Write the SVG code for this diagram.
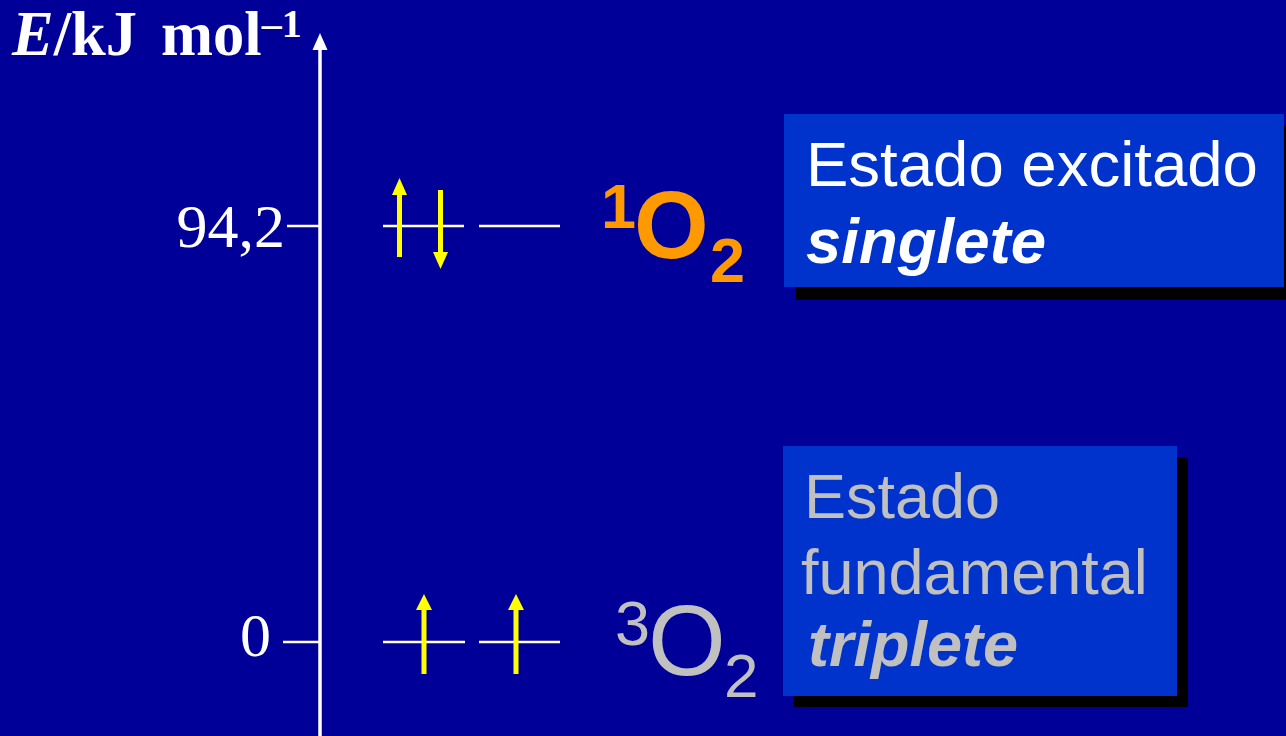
<svg xmlns="http://www.w3.org/2000/svg" width="1286" height="736" viewBox="0 0 1286 736">
<style>
.serif{font-family:"Liberation Serif","Times New Roman",serif;fill:#fff}
.sans{font-family:"Liberation Sans",Arial,sans-serif}
.wl{stroke:#fff;stroke-width:2.5;fill:none}
.ax{stroke:#fff;stroke-width:3.5;fill:none}
.spin{fill:#ffff00}
.box{fill:#0033cc}
.shadow{fill:#000}
</style>
<rect x="0" y="0" width="1286" height="736" fill="#000099"/>
<g id="axis">
<line class="ax" x1="320" y1="46" x2="320" y2="736"/>
<polygon points="320,33 312.5,50 327.5,50" fill="#fff"/>
<text class="serif" x="12" y="55" font-size="62.5" font-weight="bold"><tspan font-style="italic">E</tspan>/kJ<tspan x="161">mol</tspan><tspan font-size="40" dy="-18">–1</tspan></text>
<line class="wl" x1="287" y1="226" x2="320" y2="226"/>
<text class="serif" x="285" y="247" font-size="62" text-anchor="end">94,2</text>
<line class="wl" x1="283" y1="642" x2="320" y2="642"/>
<text class="serif" x="271" y="656" font-size="62" text-anchor="end">0</text>
</g>
<g id="singlet-levels">
<line class="wl" x1="383" y1="226" x2="464" y2="226"/>
<line class="wl" x1="479" y1="226" x2="560" y2="226"/>
<rect class="spin" x="397" y="192" width="5" height="65"/>
<polygon class="spin" points="399.5,178 392,195 407,195"/>
<rect class="spin" x="438" y="190" width="5" height="65"/>
<polygon class="spin" points="440.5,269 433,252 448,252"/>
</g>
<g id="triplet-levels">
<line class="wl" x1="383" y1="642" x2="465" y2="642"/>
<line class="wl" x1="479" y1="642" x2="560" y2="642"/>
<rect class="spin" x="421.5" y="607" width="5" height="67"/>
<polygon class="spin" points="424,594 416,610 432,610"/>
<rect class="spin" x="513.5" y="607" width="5" height="67"/>
<polygon class="spin" points="516,594 508,610 524,610"/>
</g>
<g id="label-1O2">
<text class="sans" fill="#ff9900" font-weight="bold"><tspan x="601" y="228" font-size="63">1</tspan><tspan x="634" y="258" font-size="96">O</tspan><tspan x="710" y="282" font-size="63">2</tspan></text>
</g>
<g id="label-3O2">
<text class="sans" fill="#c0c0c0"><tspan x="615" y="645" font-size="63">3</tspan><tspan x="648" y="675" font-size="100">O</tspan><tspan x="724" y="697" font-size="62">2</tspan></text>
</g>
<g id="box-singlet">
<rect class="shadow" x="795" y="125" width="500" height="175"/>
<rect class="box" x="784" y="114" width="500" height="173"/>
<text class="sans" fill="#fff" font-size="63.5"><tspan x="806" y="186">Estado excitado</tspan><tspan x="806" y="263" font-weight="bold" font-style="italic">singlete</tspan></text>
</g>
<g id="box-triplet">
<rect class="shadow" x="794" y="457" width="394" height="250"/>
<rect class="box" x="783" y="446" width="394" height="250"/>
<text class="sans" fill="#c0c0c0" font-size="63"><tspan x="804" y="518">Estado</tspan><tspan x="801" y="594">fundamental</tspan><tspan x="808" y="666" font-weight="bold" font-style="italic">triplete</tspan></text>
</g>
</svg>
